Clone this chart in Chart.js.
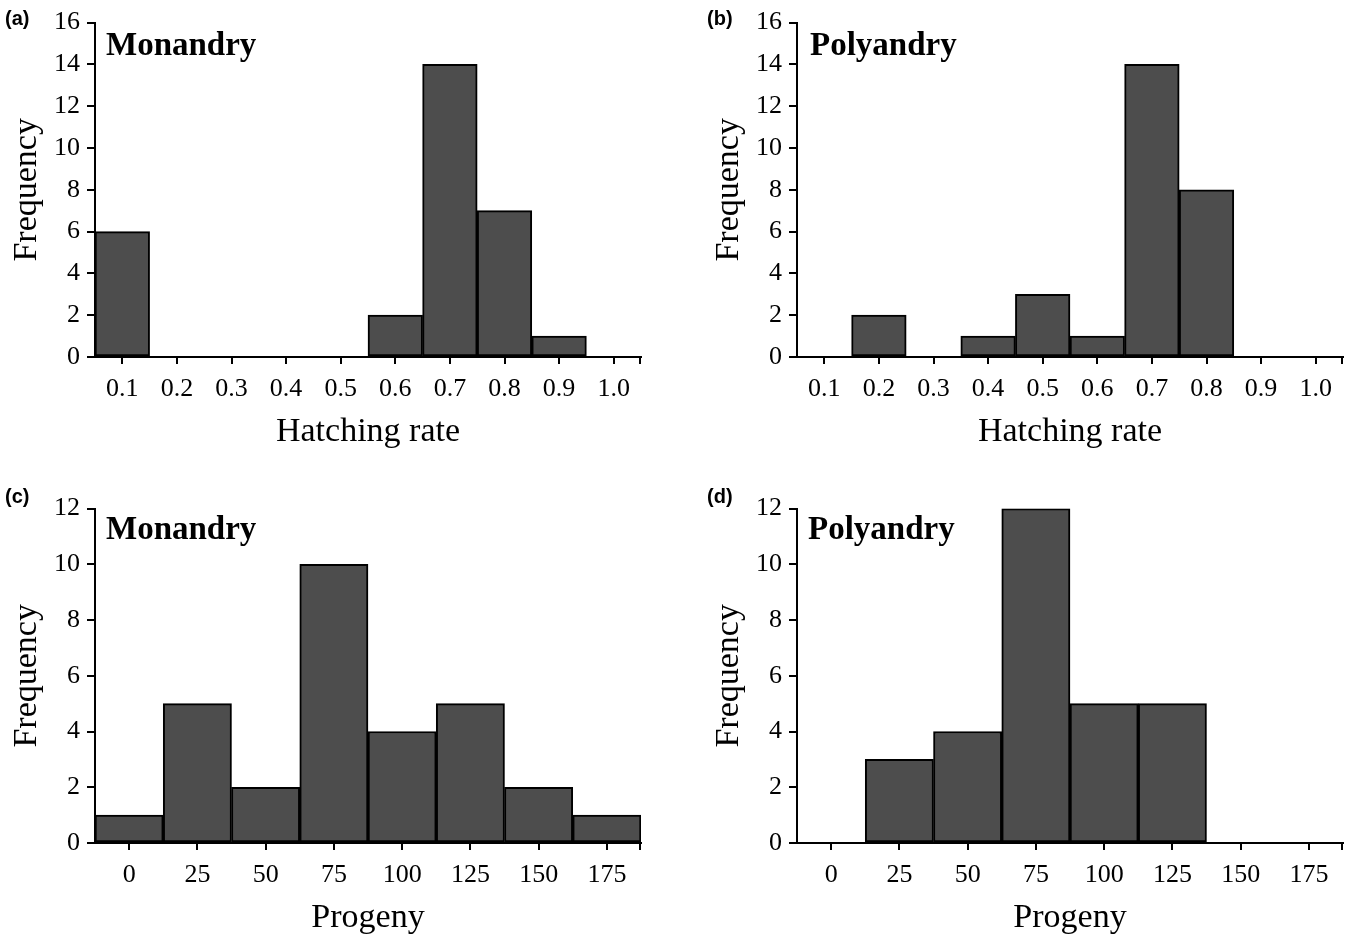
<!DOCTYPE html>
<html>
<head>
<meta charset="utf-8">
<script src="https://cdn.jsdelivr.net/npm/chart.js@4.4.1/dist/chart.umd.min.js"></script>
<style>
  html, body { margin: 0; padding: 0; background: #fff; overflow: hidden; }
  body { width: 1349px; height: 938px; position: relative; }
  .panel { position: absolute; width: 674px; height: 450px; }
  .tag { position: absolute; font-family: "Liberation Sans", Arial, sans-serif; font-weight: bold; font-size: 20px; line-height: 20px; color: #000; }
  .grp { position: absolute; font-family: "Liberation Serif", "Times New Roman", serif; font-weight: bold; font-size: 33px; line-height: 33px; color: #000; }
</style>
</head>
<body>
<div class="panel" style="left:0px;top:0px;"><canvas id="ca" width="674" height="450"></canvas></div>
<div class="panel" style="left:702px;top:0px;"><canvas id="cb" width="674" height="450"></canvas></div>
<div class="panel" style="left:0px;top:486px;"><canvas id="cc" width="674" height="450"></canvas></div>
<div class="panel" style="left:702px;top:486px;"><canvas id="cd" width="674" height="450"></canvas></div>

<div class="tag" style="left:5px;top:8px;">(a)</div>
<div class="tag" style="left:707px;top:8px;">(b)</div>
<div class="tag" style="left:5px;top:486px;">(c)</div>
<div class="tag" style="left:707px;top:486px;">(d)</div>

<div class="grp" style="left:106px;top:28px;">Monandry</div>
<div class="grp" style="left:810px;top:28px;">Polyandry</div>
<div class="grp" style="left:106px;top:512px;">Monandry</div>
<div class="grp" style="left:808px;top:512px;">Polyandry</div>

<script>
// ---- Data ----
const hatchCategories = ['0.1','0.2','0.3','0.4','0.5','0.6','0.7','0.8','0.9','1.0'];
const monandryHatching = [6, 0, 0, 0, 0, 2, 14, 7, 1, 0];
const polyandryHatching = [0, 2, 0, 1, 3, 1, 14, 8, 0, 0];

const progenyCategories = ['0','25','50','75','100','125','150','175'];
const monandryProgeny = [1, 5, 2, 10, 4, 5, 2, 1];
const polyandryProgeny = [0, 3, 4, 12, 5, 5, 0, 0];

const hatchYMax = 16;
const progenyYMax = 12;
const yStep = 2;

// ---- Styling ----
const SERIF = '"Liberation Serif", "Times New Roman", serif';
const BAR_FILL = '#4d4d4d';

// draws the closing tick at the right end of the x axis
const endTickPlugin = {
  id: 'endTick',
  afterDraw(chart) {
    const x = chart.scales.x;
    const ctx = chart.ctx;
    ctx.save();
    ctx.strokeStyle = '#000';
    ctx.lineWidth = 2;
    ctx.beginPath();
    ctx.moveTo(x.right - 1, x.top);
    ctx.lineTo(x.right - 1, x.top + 7);
    ctx.stroke();
    ctx.restore();
  }
};

function makeChart(id, categories, values, yMax, xTitle) {
  return new Chart(document.getElementById(id), {
    type: 'bar',
    data: {
      labels: categories,
      datasets: [{
        data: values,
        backgroundColor: BAR_FILL,
        borderColor: '#000',
        borderWidth: 2,
        borderSkipped: false,
        barPercentage: 1.0,
        categoryPercentage: 1.0
      }]
    },
    options: {
      responsive: false,
      animation: false,
      layout: { padding: { top: 19, right: 33, left: 0, bottom: 0 } },
      plugins: { legend: { display: false }, tooltip: { enabled: false } },
      scales: {
        x: {
          offset: true,
          grid: { offset: false, drawOnChartArea: false, drawTicks: true, tickLength: 7, color: '#000', lineWidth: 2 },
          border: { display: true, color: '#000', width: 2 },
          ticks: { color: '#000', font: { family: SERIF, size: 26 }, padding: 10, autoSkip: false, maxRotation: 0 },
          title: { display: true, text: xTitle, color: '#000', font: { family: SERIF, size: 34, lineHeight: 1 }, padding: { top: 0, bottom: 1 } },
          afterFit(scale) { scale.height = 93; }
        },
        y: {
          min: 0,
          max: yMax,
          grid: { drawOnChartArea: false, drawTicks: true, tickLength: 8, color: '#000', lineWidth: 2 },
          border: { display: true, color: '#000', width: 2 },
          ticks: { stepSize: yStep, color: '#000', font: { family: SERIF, size: 26 }, padding: 7 },
          title: { display: true, text: 'Frequency', color: '#000', font: { family: SERIF, size: 34, lineHeight: 1 }, padding: { top: 10, bottom: 0 } },
          afterFit(scale) { scale.width = 95; }
        }
      }
    },
    plugins: [endTickPlugin]
  });
}

makeChart('ca', hatchCategories, monandryHatching, hatchYMax, 'Hatching rate');
makeChart('cb', hatchCategories, polyandryHatching, hatchYMax, 'Hatching rate');
makeChart('cc', progenyCategories, monandryProgeny, progenyYMax, 'Progeny');
makeChart('cd', progenyCategories, polyandryProgeny, progenyYMax, 'Progeny');
</script>
</body>
</html>
